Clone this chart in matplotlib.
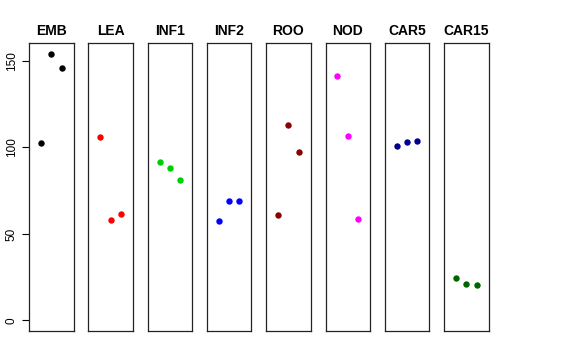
import matplotlib
matplotlib.use("Agg")
import matplotlib.pyplot as plt

plt.rcParams['font.family'] = ['Liberation Sans', 'DejaVu Sans']

groups = ['EMB', 'LEA', 'INF1', 'INF2', 'ROO', 'NOD', 'CAR5', 'CAR15']
colors = ['black', 'red', '#00CD00', 'blue', '#8B0000', 'magenta', '#00008B', '#006400']
values = {
    'EMB': [102.6, 154.1, 146.2],
    'LEA': [106.3, 58.1, 61.7],
    'INF1': [91.6, 88.2, 81.4],
    'INF2': [57.7, 69.1, 69.1],
    'ROO': [61.0, 113.0, 97.4],
    'NOD': [141.6, 106.7, 58.6],
    'CAR5': [101.1, 103.4, 103.8],
    'CAR15': [24.5, 21.2, 20.6],
}
reps = [1, 2, 3]
yticks = [0, 50, 100, 150]

W, H = 576, 360
fig = plt.figure(figsize=(W / 100, H / 100), dpi=100)

ymax = max(max(v) for v in values.values())
left0, width, step = 29, 44.5, 59.3
top, bottom = 43.3, 331

for i, (g, c) in enumerate(zip(groups, colors)):
    x0 = left0 + i * step
    ax = fig.add_axes([x0 / W, (H - bottom) / H, width / W, (bottom - top) / H])
    ax.plot(reps, values[g], 'o', color=c, markersize=4.6, markeredgewidth=0)
    ax.set_xlim(-0.16, 4.16)
    ax.set_ylim(-0.04 * ymax, 1.04 * ymax)
    ax.set_xticks([])
    for s in ax.spines.values():
        s.set_color('#222222')
        s.set_linewidth(0.9)
    ax.set_title(g, fontsize=10, fontweight='bold', pad=6)
    if i == 0:
        ax.set_yticks(yticks)
        ax.set_yticklabels([str(t) for t in yticks], rotation=90, va='center', fontsize=8.5)
        ax.tick_params(axis='y', length=5, width=0.8, pad=3)
    else:
        ax.set_yticks([])

fig.savefig('out.png', dpi=100)
